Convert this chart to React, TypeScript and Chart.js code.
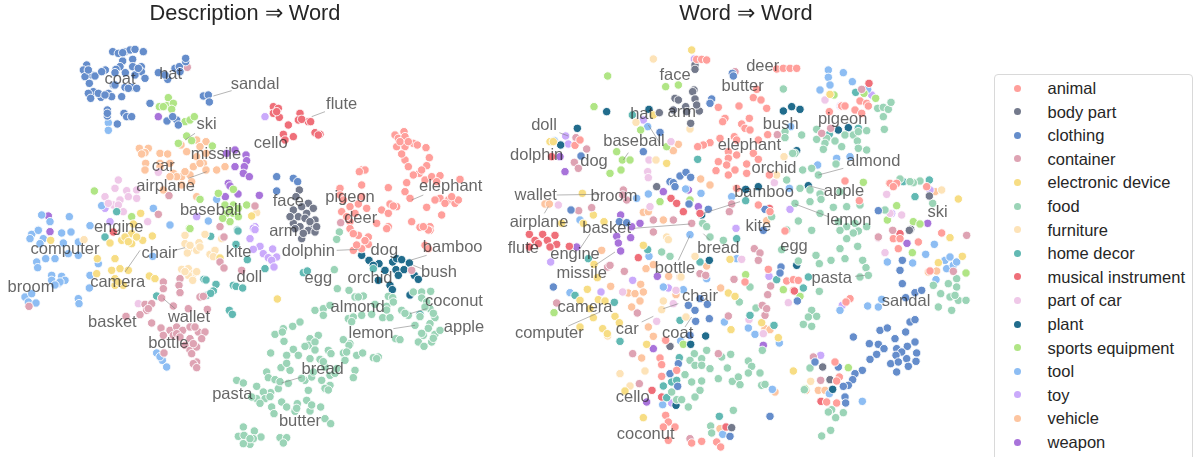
import React, { useEffect, useRef } from "react";
import { Chart, registerables } from "chart.js";
Chart.register(...registerables);

type P = number[];
const categories = ["animal","body part","clothing","container","electronic device","food","furniture","home decor","musical instrument","part of car","plant","sports equipment","tool","toy","vehicle","weapon"];
const colors = ["#ff9f9b","#747a8c","#658dcb","#dea3b3","#f7dd84","#9bd4b7","#fde3b8","#62b9b3","#ef6f79","#efc8e8","#216c8c","#b0e585","#8dbdf3","#caaafb","#fdc5a0","#a873da"];

const dAnimal: P[] = [[1185,405],[1212,395],[1195,415],[1215,410],[1190,440],[1215,440],[1240,430],[1252,435],[1278,443],[1215,480],[1225,500],[1288,473],[1280,497],[1258,520],[1275,540],[1295,530],[1320,527],[1380,538],[1220,548],[1165,563],[1215,575],[1230,595],[1145,630],[1170,612],[1165,640],[1190,620],[1320,595],[1345,600],[1305,600],[1365,610],[1280,622],[1325,645],[1235,665],[1085,510],[1095,510],[1020,565],[1085,555],[1020,585],[1085,590],[1050,620],[1075,612],[1050,665],[1025,635],[1100,625],[1130,670],[1165,680],[1260,682],[1290,680],[1050,686],[1075,706],[1060,701],[1105,711],[1105,733],[1085,746],[1060,751],[1160,686],[1290,691],[1275,736],[1285,746],[1200,425],[1225,425],[1205,462],[1265,510],[1240,525],[1310,545],[1335,610],[1375,600],[1355,590],[1180,618],[1078,515],[1030,600],[1065,640],[1040,650],[1285,690],[1270,680],[1095,722],[1070,735]];
const dBody: P[] = [[898,570],[888,590],[925,610],[880,630],[905,620],[940,625],[895,650],[920,640],[880,670],[945,660],[900,680],[935,680],[885,686],[925,691],[905,716],[945,696],[915,655],[870,650],[930,665],[910,700],[950,680]];
const dClothing: P[] = [[338,155],[355,160],[375,155],[390,150],[405,148],[430,155],[368,183],[398,178],[360,200],[398,200],[260,195],[250,210],[275,225],[255,230],[316,210],[348,208],[376,218],[424,200],[424,215],[405,225],[435,235],[340,255],[375,262],[395,262],[410,265],[268,250],[280,275],[265,280],[272,295],[303,292],[325,280],[335,290],[365,290],[345,255],[475,218],[503,238],[525,205],[538,200],[557,185],[557,175],[450,310],[610,288],[625,285],[628,306],[322,330],[322,348],[372,340],[380,350],[395,350],[352,372],[501,363],[530,360],[535,375],[830,530],[880,535],[893,545],[830,573],[368,158],[430,155],[265,210],[285,228],[305,215],[345,218],[295,280],[315,285],[385,265],[415,205],[495,225],[540,215],[322,340],[518,350]];
const dContainer: P[] = [[562,202],[507,587],[475,643],[765,618],[660,680],[1022,668],[672,711],[660,786],[672,804],[725,811],[490,846],[490,866],[540,836],[537,856],[540,878],[485,894],[520,918],[600,891],[610,889],[435,913],[455,911],[440,931],[420,944],[378,949],[565,926],[622,928],[455,969],[483,984],[490,1006],[510,991],[530,981],[548,991],[570,981],[595,996],[615,996],[520,1006],[570,1016],[605,1016],[555,1036],[570,1051],[590,1041],[492,1059],[575,1061],[590,1086],[580,1091],[590,1103],[87,919],[1235,811],[445,926],[530,1001],[585,981],[540,1011],[580,1031]];
const dElectronic: P[] = [[422,640],[400,672],[755,648],[152,721],[330,729],[365,721],[395,731],[428,721],[457,708],[345,776],[292,776],[335,811],[360,806],[385,811],[290,821],[345,856],[370,856],[448,828],[465,836],[660,774],[832,897],[395,701],[375,711],[410,711],[385,725],[345,836],[355,846]];
const dFood: P[] = [[1018,696],[1010,718],[1003,809],[1012,866],[1047,871],[1065,891],[1090,888],[1165,889],[1178,893],[1240,876],[1265,876],[1292,874],[1265,894],[945,931],[970,926],[970,946],[990,916],[1045,956],[1060,951],[1085,946],[1115,943],[1125,913],[1160,919],[1148,953],[1170,953],[1205,931],[1225,946],[1280,906],[1290,926],[1305,953],[1245,976],[1290,971],[1270,1006],[1305,1003],[1320,991],[1255,1026],[1295,1026],[1272,1039],[1187,1016],[1200,1019],[900,966],[878,979],[850,986],[825,1003],[847,996],[852,1024],[930,1016],[955,1006],[925,1036],[1030,1019],[1050,1031],[1047,1036],[915,1039],[880,1048],[812,1059],[860,1066],[895,1066],[930,1076],[960,1078],[985,1051],[993,1061],[1030,1059],[1070,1066],[1088,1059],[1135,1071],[1120,1073],[1035,1081],[1065,1111],[1060,1133],[975,1101],[843,1103],[870,1111],[800,1116],[805,1133],[825,1139],[710,1141],[730,1149],[770,1159],[835,1166],[812,1178],[790,1176],[925,1171],[975,1166],[990,1156],[965,1141],[915,1141],[935,1131],[990,1126],[795,1196],[770,1196],[755,1191],[815,1221],[822,1241],[845,1206],[860,1221],[892,1211],[920,1201],[885,1234],[930,1233],[962,1221],[975,1256],[992,1271],[730,1281],[715,1309],[732,1306],[763,1293],[783,1311],[750,1333],[730,1331],[760,1316],[840,1313],[860,1313],[850,1329],[1075,891],[1180,906],[1160,930],[1215,940],[1275,921],[1300,940],[1265,1000],[1285,985],[1300,1015],[1260,950],[1055,965],[945,1026],[945,1050],[975,1165],[860,1090],[970,1085],[1005,1120],[1010,1106],[985,1170],[940,1116],[905,1135],[865,1150],[840,1145],[780,1210],[810,1190],[890,1225],[935,1215],[750,1316],[1040,1056],[1130,1076]];
const dFurniture: P[] = [[770,638],[252,719],[555,706],[555,731],[597,728],[615,703],[565,751],[590,751],[562,759],[630,763],[645,751],[665,716],[545,808],[565,806],[580,821],[565,826],[578,841],[570,736],[600,741],[640,770],[555,815],[590,815]];
const dHome: P[] = [[350,635],[712,690],[315,711],[632,709],[714,693],[708,733],[742,779],[795,806],[612,838],[648,853],[640,873],[620,886],[700,856],[708,859],[728,864],[470,888],[688,931],[697,943],[910,818],[922,813],[1120,806],[1260,943],[618,840],[632,880]];
const dMusical: P[] = [[820,320],[835,325],[820,340],[838,352],[900,340],[895,360],[925,365],[932,365],[865,375],[945,398],[960,403],[880,410],[850,403],[855,420],[340,696],[830,335],[905,358],[955,405]];
const dCarPart: P[] = [[355,540],[345,565],[315,590],[380,572],[410,570],[410,595],[360,600],[340,615],[370,635],[475,517],[443,665],[415,911],[325,610],[385,590],[355,615]];
const dPlant: P[] = [[1085,766],[1107,781],[1137,791],[1178,786],[1190,776],[1205,779],[1228,789],[1155,811],[1188,809],[1212,809],[1135,841],[1195,826],[1243,826],[1255,838],[1170,856],[1177,869],[1230,885],[1120,796]];
const dSports: P[] = [[505,293],[478,320],[500,317],[520,310],[515,328],[555,365],[570,360],[583,350],[560,408],[575,422],[535,430],[637,438],[283,573],[600,598],[655,580],[700,568],[675,615],[700,615],[680,640],[700,640],[715,650],[690,665],[740,615],[395,650],[568,685],[570,686],[490,320],[690,630],[715,625],[668,655]];
const dTool: P[] = [[125,645],[208,650],[115,690],[150,665],[305,617],[460,625],[650,598],[625,663],[270,677],[510,675],[95,703],[115,691],[90,716],[130,716],[185,699],[213,696],[190,729],[120,731],[235,726],[235,766],[137,776],[165,776],[205,761],[110,786],[113,803],[155,826],[155,841],[185,829],[195,841],[175,851],[270,826],[268,864],[295,791],[458,769],[235,896],[237,911],[75,891],[95,881],[85,906],[108,909],[470,1059],[487,1081],[500,1101],[325,368],[325,391],[180,846],[165,855],[480,1070]];
const dToy: P[] = [[795,350],[315,625],[590,650],[330,665],[765,680],[760,685],[765,689],[750,716],[780,739],[760,748],[790,761],[818,747],[805,773],[830,771],[815,781],[822,801]];
const dVehicle: P[] = [[418,445],[445,445],[435,458],[425,462],[480,460],[503,462],[480,490],[437,490],[510,490],[435,510],[480,500],[618,425],[590,420],[560,455],[590,470],[618,460],[610,490],[618,510],[580,500],[650,510],[675,500],[520,520],[545,530],[530,530],[570,525],[545,555],[575,545],[490,570],[590,590],[543,435],[600,440],[600,490],[555,515],[510,530]];
const dWeapon: P[] = [[475,350],[705,450],[680,460],[738,465],[740,482],[705,500],[733,500],[730,520],[748,530],[685,550],[690,558],[676,590],[714,582],[778,586],[145,648],[150,695]];

const wAnimal: P[] = [[590,178],[605,178],[620,180],[830,207],[850,205],[870,205],[890,205],[655,322],[717,318],[760,293],[783,300],[800,325],[770,268],[675,355],[668,365],[748,355],[725,372],[735,385],[750,390],[803,404],[775,420],[703,410],[710,420],[660,415],[630,428],[610,435],[593,440],[685,455],[710,465],[760,460],[685,475],[655,485],[680,495],[740,492],[775,478],[648,512],[705,510],[740,520],[685,525],[808,525],[1025,318],[1035,318],[988,335],[1065,330],[1080,303],[1100,310],[1105,318],[1085,340],[1035,543],[1170,550],[1190,550],[1180,560],[1280,560],[1078,602],[775,615],[710,565],[810,635],[855,693],[805,808],[735,846],[860,843],[880,839],[895,841],[1050,896],[1038,906],[1180,716],[1200,716],[1195,746],[1255,726],[1290,813],[1325,699],[497,1021],[480,1074],[485,1094],[530,1111],[485,1129],[1005,1086],[1018,1131],[1010,1143],[1010,1209],[980,1206],[497,1246],[505,1266],[490,1281],[525,1281],[505,1321],[575,1329],[605,1324],[650,1326],[662,1341],[225,436],[240,420]];
const wBody: P[] = [[585,195],[585,208],[582,270],[578,275],[585,297],[525,295],[535,300],[557,320],[520,330],[560,335],[598,333],[590,315],[478,338],[572,370],[470,560],[1288,588],[1232,688],[510,1039],[968,1101],[990,1139],[695,1283],[1228,691]];
const wClothing: P[] = [[635,297],[630,310],[697,220],[700,228],[480,397],[430,455],[243,468],[213,630],[540,528],[558,517],[572,532],[510,545],[520,548],[525,560],[795,628],[1135,632],[567,612],[625,628],[358,665],[380,668],[160,861],[565,916],[585,931],[600,896],[622,913],[628,956],[587,964],[570,1006],[535,1091],[510,1121],[533,1159],[810,1249],[690,1309],[843,801],[840,819],[790,691],[892,903],[1207,781],[1200,811],[1207,851],[1245,878],[1265,871],[1217,893],[1140,991],[1162,984],[1230,966],[1245,959],[1217,996],[1185,1016],[1060,1011],[1108,1031],[1135,1033],[1152,1046],[1130,1063],[1110,1078],[1190,1046],[1222,1039],[1245,1026],[1205,1056],[1188,1066],[1250,1059],[1172,1091],[1195,1086],[1220,1076],[1248,1084],[1225,1099],[1190,1116],[1087,1111],[1065,1121],[1058,1139],[1045,1156],[1030,1159],[1035,1191],[1037,1209],[1015,1101],[945,1086]];
const wContainer: P[] = [[705,215],[1085,268],[965,400],[992,385],[832,404],[228,413],[260,447],[223,487],[235,505],[370,570],[380,600],[368,585],[275,623],[236,632],[695,612],[688,635],[460,660],[520,660],[575,670],[460,696],[373,814],[323,801],[330,796],[763,746],[780,759],[775,781],[600,821],[617,826],[702,838],[812,858],[803,884],[787,916],[795,946],[800,926],[685,948],[412,939],[170,909],[398,1061],[655,1061],[418,1151],[570,1316],[940,1071],[962,1141],[1178,691],[1360,814],[1400,706],[1135,711]];
const wElectronic: P[] = [[575,150],[500,490],[247,580],[280,645],[312,665],[150,425],[160,425],[1375,597],[990,283],[185,670],[250,670],[460,345],[430,736],[282,793],[292,833],[262,868],[240,901],[295,899],[315,903],[270,926],[280,953],[345,949],[358,968],[240,981],[308,986],[322,1001],[440,1033],[685,879],[705,889],[693,989],[690,778],[785,968],[835,1013],[880,1113],[375,1173],[430,1253],[1350,713],[1315,788],[1387,769]];
const wFood: P[] = [[850,267],[1133,325],[1150,322],[1165,328],[1150,350],[1173,307],[1153,388],[905,405],[855,395],[855,413],[950,388],[950,418],[980,415],[1005,423],[975,430],[1025,440],[970,448],[1035,405],[1060,405],[1075,395],[1100,392],[1072,423],[1075,445],[1100,450],[1008,492],[935,505],[908,510],[885,460],[878,460],[955,525],[860,540],[900,565],[930,570],[960,582],[963,598],[1020,575],[930,605],[885,610],[960,640],[1000,622],[1040,620],[1080,615],[895,663],[1015,665],[1065,670],[1200,537],[1260,543],[1240,548],[1230,545],[1298,610],[1155,630],[608,670],[815,650],[860,690],[620,680],[1040,680],[1100,680],[935,691],[1020,691],[1075,693],[1040,716],[1073,739],[1060,699],[948,766],[958,791],[993,781],[1020,746],[1035,776],[1088,781],[1098,803],[1105,826],[1080,831],[958,874],[1375,901],[1398,901],[1315,921],[1355,931],[1322,881],[1345,851],[1370,836],[1370,861],[1300,856],[1350,891],[1365,886],[935,931],[950,949],[925,951],[910,973],[935,979],[718,906],[768,924],[750,861],[510,769],[485,756],[670,721],[630,711],[845,749],[895,783],[583,1061],[570,1081],[620,1051],[605,1076],[585,1096],[605,1096],[630,1106],[555,1124],[575,1146],[605,1143],[600,1171],[515,1176],[585,1191],[530,1199],[545,1199],[565,1221],[700,1231],[665,1071],[692,1063],[682,1104],[655,1136],[697,1144],[715,1131],[720,1154],[745,1083],[755,1099],[745,1119],[780,1119],[785,1156],[795,1153],[995,1229],[985,1236],[1030,1238],[1007,1253],[965,1308],[992,1291],[930,1104],[913,1169],[632,1278],[635,1299],[787,1051]];
const wFurniture: P[] = [[460,177],[570,387],[408,367],[852,470],[830,525],[468,480],[500,711],[505,719],[585,769],[543,831],[558,951],[485,929],[490,903],[360,1121],[435,1113],[390,1158],[323,1008],[932,1144],[1325,570]];
const wHome: P[] = [[397,345],[1067,277],[1075,385],[988,403],[593,478],[1245,590],[1210,545],[1288,540],[737,602],[710,716],[443,749],[265,776],[600,786],[225,886],[343,907],[360,1024],[540,961],[750,946],[822,976],[830,839],[910,864],[925,831],[538,1073],[515,1146],[490,1158],[530,1141],[500,1193],[658,1249]];
const wMusical: P[] = [[88,703],[128,703],[165,706],[105,721],[115,731],[142,721],[170,733],[150,741],[88,741],[208,739],[415,773],[513,595],[530,610],[550,635],[600,640],[808,625],[1107,250],[456,1171],[485,1191],[963,1204],[883,873],[678,1281],[1200,701],[155,470]];
const wCarPart: P[] = [[975,300],[1022,317],[513,425],[447,480],[443,515],[445,533],[823,548],[175,615],[1160,583],[1205,645],[450,620],[1170,640],[1135,714],[1155,758],[725,778],[368,876],[528,871],[520,911],[865,908],[747,959],[470,964],[790,1001]];
const wPlant: P[] = [[320,335],[447,328],[232,385],[182,435],[850,333],[875,320],[900,328],[1015,390],[1045,383],[890,452],[925,557],[737,568],[775,560],[605,645],[628,781],[890,796],[617,1008],[572,1033],[998,1168],[528,1216]];
const wSports: P[] = [[323,228],[497,260],[535,255],[282,320],[422,390],[500,440],[367,480],[390,480],[350,455],[330,520],[363,510],[480,605],[1002,285],[1127,295],[1092,280],[1090,547],[1190,617],[1162,660],[1240,665],[1260,672],[1237,758],[1398,819],[737,824],[850,869],[162,938],[900,889],[1045,1103],[550,1033],[915,1166],[570,600]];
const wTool: P[] = [[985,210],[985,232],[1030,218],[1057,245],[990,255],[960,270],[443,380],[163,422],[1010,475],[1050,470],[953,495],[445,582],[603,580],[557,567],[695,590],[872,380],[410,595],[1103,268],[240,660],[868,565],[570,704],[447,769],[710,776],[490,861],[550,869],[620,836],[210,878],[1103,918],[1135,921],[1020,931],[1145,898],[673,966],[745,984],[765,1003],[838,1029],[542,1023],[817,1168],[488,1214],[668,1303],[1087,1204],[1162,786],[1238,789],[1277,763],[1303,733],[1308,839],[1335,781],[1350,771],[1340,806],[1360,796],[1370,786],[988,1181]];
const wToy: P[] = [[583,177],[197,408],[205,432],[430,360],[1115,285],[1020,318],[870,628],[708,685],[1175,640],[1290,570],[398,841],[505,864],[303,876],[807,829],[962,1066],[515,1209],[1027,916],[152,786]];
const wVehicle: P[] = [[1168,550],[535,433],[520,452],[602,537],[630,555],[708,565],[135,612],[148,612],[430,637],[445,635],[490,660],[800,662],[305,751],[438,806],[460,794],[506,829],[540,831],[620,798],[385,879],[405,881],[422,853],[430,876],[420,903],[395,921],[332,859],[662,864],[528,884],[445,981],[460,1009],[495,1021],[425,1074],[795,986],[810,989],[825,1176],[918,1171],[955,1171],[975,1171],[880,871],[1285,816],[1310,813],[660,1286],[1305,575]];
const wWeapon: P[] = [[565,570],[490,575],[595,620],[362,645],[420,670],[395,680],[1283,670],[1221,730],[230,741],[350,709],[355,729],[362,753],[392,713],[472,829],[460,1046],[790,1036],[440,1206],[180,470],[195,515]];

const descSeries = [dAnimal,dBody,dClothing,dContainer,dElectronic,dFood,dFurniture,dHome,dMusical,dCarPart,dPlant,dSports,dTool,dToy,dVehicle,dWeapon];
const wordSeries = [wAnimal,wBody,wClothing,wContainer,wElectronic,wFood,wFurniture,wHome,wMusical,wCarPart,wPlant,wSports,wTool,wToy,wVehicle,wWeapon];

const descWords: (string|number)[][] = [["coat",360,238],["hat",512,222],["sandal",765,252],["flute",1025,312],["ski",620,373],["cello",812,430],["missile",648,462],["car",490,500],["airplane",497,558],["elephant",1352,560],["pigeon",1050,592],["face",865,605],["deer",1082,655],["baseball",632,630],["engine",356,682],["arm",850,693],["computer",195,749],["chair",478,761],["kite",716,757],["dolphin",925,754],["dog",1153,751],["bamboo",1358,741],["camera",353,846],["broom",93,863],["doll",748,833],["egg",955,834],["orchid",1110,834],["bush",1317,818],["coconut",1362,903],["almond",1073,923],["basket",337,967],["wallet",567,953],["apple",1392,981],["lemon",1113,1001],["bottle",505,1031],["bread",968,1109],["pasta",697,1184],["butter",900,1265]];
const descLeaders: P[] = [[640,288,695,272],[935,350,975,335],[555,420,585,400],[565,535,620,515],[1235,600,1270,585],[525,751,555,743],[1010,751,1075,748],[1230,781,1280,766],[375,816,420,751],[1240,796,1265,806],[1230,941,1280,926],[490,896,525,926],[1180,986,1245,976],[845,1149,905,1131]];
const wordWords: (string|number)[][] = [["face",525,225],["deer",788,198],["butter",728,258],["hat",425,342],["arm",545,338],["bush",842,372],["pigeon",1028,357],["doll",132,377],["baseball",402,425],["dolphin",110,465],["dog",282,483],["elephant",748,435],["almond",1120,483],["orchid",822,505],["wallet",107,585],["broom",342,588],["apple",1032,575],["bamboo",792,578],["airplane",117,667],["lemon",1047,660],["ski",1313,638],["basket",320,685],["kite",775,680],["flute",70,744],["engine",225,764],["bread",655,746],["egg",882,738],["missile",245,821],["bottle",525,806],["pasta",995,834],["chair",600,888],["sandal",1218,903],["camera",255,921],["computer",148,1001],["car",382,989],["coat",533,999],["cello",398,1193],["coconut",437,1303]];
const wordLeaders: P[] = [[178,398,205,408],[445,375,480,430],[385,458,370,480],[955,525,1030,505],[170,585,300,583],[925,557,975,570],[610,640,720,605],[133,640,145,620],[885,612,985,650],[400,685,570,672],[240,746,270,701],[610,701,630,721],[285,796,345,756],[535,781,570,706],[1065,829,1095,826],[490,926,535,911],[205,978,300,936],[425,966,460,949],[555,981,575,951]];

const panelTop = 30;

function makeChart(el: HTMLCanvasElement, title: string, series: P[][], words: (string|number)[][], leaders: P[]) {
  const textPlugin = {
    id: "wordLabels",
    afterDatasetsDraw(c: any) {
      const { ctx, scales: { x, y } } = c;
      ctx.save();
      ctx.strokeStyle = "rgba(120,120,120,0.55)";
      ctx.lineWidth = 1;
      for (const [a, b, e, f] of leaders) {
        ctx.beginPath();
        ctx.moveTo(x.getPixelForValue(a), y.getPixelForValue(b));
        ctx.lineTo(x.getPixelForValue(e), y.getPixelForValue(f));
        ctx.stroke();
      }
      ctx.font = '16.5px "Liberation Sans"';
      ctx.fillStyle = "rgba(38,38,38,0.7)";
      ctx.textAlign = "center";
      ctx.textBaseline = "middle";
      for (const [t, a, b] of words) {
        ctx.fillText(String(t), x.getPixelForValue(a as number), y.getPixelForValue(b as number));
      }
      ctx.restore();
    },
  };
  return new Chart(el, {
    type: "scatter",
    data: {
      datasets: categories.map((label, i) => ({
        label,
        data: series[i].map(([x, y]) => ({ x, y })),
        backgroundColor: colors[i],
        borderColor: "rgba(255,255,255,0.9)",
        borderWidth: 1,
        pointRadius: 4.2,
        clip: false as any,
      })),
    },
    options: {
      animation: false,
      responsive: false,
      layout: { padding: 0, autoPadding: false },
      plugins: {
        legend: { display: false },
        tooltip: { enabled: false },
        title: { display: true, text: title, color: "#262626", font: { family: "Liberation Sans", size: 21.8, weight: "normal", lineHeight: 1.2 }, padding: { top: 1, bottom: panelTop - 1 - 26.16 } },
      },
      scales: {
        x: { display: false, type: "linear", min: 0, max: el.width * 3 },
        y: { display: false, type: "linear", reverse: true, min: panelTop * 3, max: 1371 },
      },
    },
    plugins: [textPlugin],
  } as any);
}

export default function App() {
  const left = useRef<HTMLCanvasElement>(null);
  const right = useRef<HTMLCanvasElement>(null);
  useEffect(() => {
    document.body.style.margin = "0";
    const a = makeChart(left.current!, "Description ⇒ Word", descSeries, descWords, descLeaders);
    const b = makeChart(right.current!, "Word ⇒ Word", wordSeries, wordWords, wordLeaders);
    return () => { a.destroy(); b.destroy(); };
  }, []);
  return (
    <div style={{ position: "relative", width: 1194, height: 457, overflow: "hidden", background: "#fff" }}>
      <canvas ref={left} width={490} height={457} style={{ position: "absolute", left: 0, top: 0 }} />
      <canvas ref={right} width={492} height={457} style={{ position: "absolute", left: 500, top: 0 }} />
      <div style={{ position: "absolute", left: 994, top: 74, width: 197, height: 400, border: "1px solid #d9d9d9", borderRadius: 4, boxSizing: "content-box" }}>
        {categories.map((c, i) => (
          <div key={c} style={{ position: "absolute", left: 0, top: 3 + i * 23.6, height: 20, lineHeight: "20px", whiteSpace: "nowrap", font: '16.5px/20px "Liberation Sans"', color: "#262626" }}>
            <span style={{ position: "absolute", left: 18.5, top: 6.5, width: 7, height: 7, borderRadius: "50%", background: colors[i] }} />
            <span style={{ position: "absolute", left: 52.5, top: 0 }}>{c}</span>
          </div>
        ))}
      </div>
    </div>
  );
}
